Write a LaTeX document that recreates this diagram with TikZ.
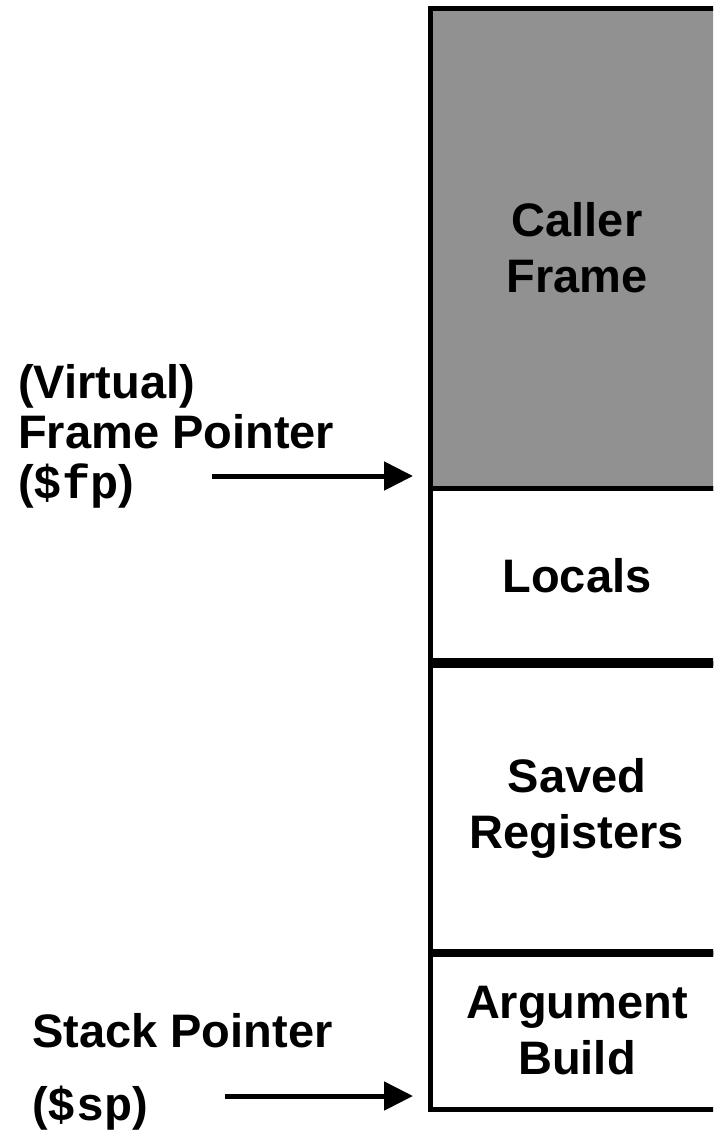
\documentclass[tikz,border=0pt]{standalone}
\usepackage{fontspec}
\setmainfont{Liberation Sans}
\setmonofont{Liberation Mono}
\usetikzlibrary{arrows.meta}
\definecolor{framegray}{RGB}{145,145,145}
\tikzset{stackslot/.style={draw=black, line width=5pt, outer sep=0pt, inner sep=0pt,
		minimum width=294pt, align=center,
		font=\fontsize{47}{56}\selectfont\bfseries},
	ptrtext/.style={align=left, inner sep=0pt, anchor=north west,
		font=\fontsize{47}{50}\selectfont\bfseries},
	divider/.style={line width=10pt},
	ptr/.style={line width=5pt, -{Triangle[length=29pt,width=28pt]}, shorten >=17pt}}

\begin{document}
\begin{tikzpicture}[x=1pt, y=-1pt]
		\clip (0, 0) rectangle (713, 1133);
		\begin{scope}[every node/.style={stackslot}]
			\node[fill=framegray, minimum height=480pt](caller) at (577, 248) {Caller\\Frame};
			\node[minimum height=175pt](locals) at (577, 575.5) {Locals};
			\node[minimum height=290pt](saved) at (577, 808) {Saved\\Registers};
			\node[minimum height=156pt](argbuild) at (577, 1031) {Argument\\Build};
		\end{scope}
		\draw[divider] (locals.south west) -- (locals.south east);
		\draw[divider, line width=8pt] (saved.south west) -- (saved.south east);
		% pointer labels
		\node[ptrtext](fplabel) at (18, 364) {(Virtual)\\Frame Pointer\\(\texttt{\$fp})};
		\node[ptrtext](splabel) at (32, 1013) {Stack Pointer\\[23pt](\texttt{\$sp})};
		\coordinate (fptail) at (212, 476);
		\coordinate (sptail) at (225, 1096);
		\draw[ptr] (fptail) -- (fptail -| caller.west);
		\draw[ptr] (sptail) -- (sptail -| argbuild.west);
	\end{tikzpicture}
\end{document}
